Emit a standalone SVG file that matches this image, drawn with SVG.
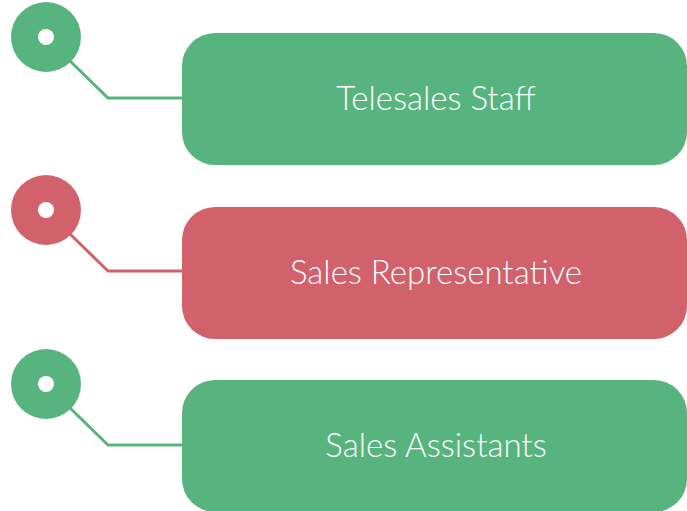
<svg xmlns="http://www.w3.org/2000/svg" width="687" height="511" viewBox="0 0 687 511">
<style>
.g{fill:#57B47E}.r{fill:#D1616B}
.lg{stroke:#57B47E}.lr{stroke:#D1616B}
.ln{fill:none;stroke-width:3}
.dot{fill:#fff}
.t{fill:#fff;font-family:Lato,"Noto Sans",sans-serif;font-weight:300;font-size:33px;text-anchor:middle}
</style>
<rect width="687" height="511" fill="#fff"/>
<g id="connectors">
<polyline class="ln lg" points="70,61 108,98 184,98"/>
<polyline class="ln lr" points="70,234 108,271 184,271"/>
<polyline class="ln lg" points="70,408 108,445 184,445"/>
</g>
<g id="marker1"><circle class="g" cx="46" cy="37" r="35"/><circle class="dot" cx="46" cy="37" r="8"/></g>
<g id="marker2"><circle class="r" cx="46" cy="210" r="35"/><circle class="dot" cx="46" cy="210" r="8"/></g>
<g id="marker3"><circle class="g" cx="46" cy="384" r="35"/><circle class="dot" cx="46" cy="384" r="8"/></g>
<g id="node1"><rect class="g" x="182" y="33" width="505" height="132" rx="33"/><text class="t" x="436" y="110">Telesales Staff</text></g>
<g id="node2"><rect class="r" x="182" y="207" width="505" height="132" rx="33"/><text class="t" x="436" y="284">Sales Representative</text></g>
<g id="node3"><rect class="g" x="182" y="380" width="505" height="132" rx="33"/><text class="t" x="436" y="457">Sales Assistants</text></g>
</svg>
